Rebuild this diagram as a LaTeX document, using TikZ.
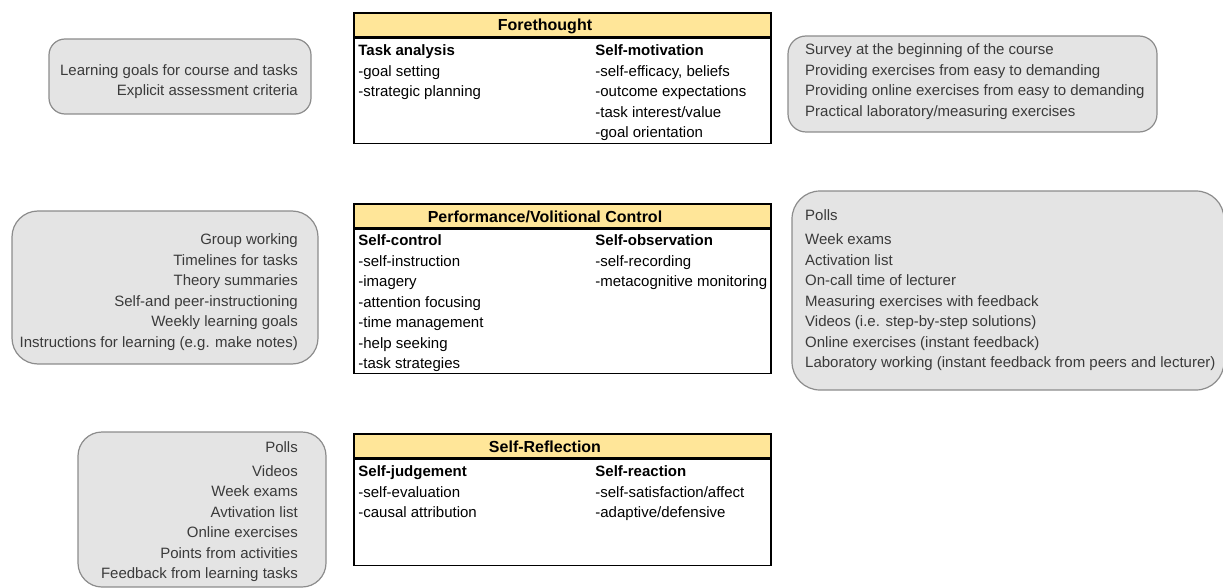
\documentclass[tikz,border=0pt]{standalone}
\usepackage{fontspec}
\setmainfont{Liberation Sans}
\usetikzlibrary{positioning}
\definecolor{headfill}{HTML}{FFE699}
\definecolor{aidfill}{HTML}{E4E4E4}
\definecolor{aidline}{HTML}{8C8C8C}
\definecolor{aidtext}{HTML}{3A3A3A}
\tikzset{
  phasehead/.style ={draw=black, line width=1.6pt, fill=headfill,
                     minimum width=417pt, minimum height=24pt, inner sep=0pt},
  phasetitle/.style={inner sep=0pt, font=\bfseries\fontsize{16}{18}\selectfont},
  phasebody/.style ={draw=black, line width=1.6pt, fill=white,
                     minimum width=417pt, inner sep=0pt},
  column/.style    ={align=left, inner sep=0pt,
                     font=\fontsize{15}{20.5}\selectfont},
  aidbox/.style    ={draw=aidline, fill=aidfill, line width=1.2pt,
                     rounded corners=16pt, inner sep=0pt},
  aidlist/.style   ={inner sep=0pt, text=aidtext,
                     font=\fontsize{15}{20.5}\selectfont},
}
\begin{document}
\begin{tikzpicture}[x=1pt, y=-1pt]
\useasboundingbox (0,0) rectangle (1223,588);
\clip (0,0) rectangle (1223,588);

% --- forethought phase ---
\node[phasehead] (fore-head) at (562.5,25) {};
\node[phasetitle] (fore-title) at (545,26) {Forethought};
\node[phasebody, minimum height=105pt, below=0pt of fore-head] (fore-body) {};
\node[column, below right=7pt and 5pt of fore-body.north west] (fore-task)
     {\textbf{Task analysis}\\-goal setting\\-strategic planning};
\node[column, below right=7pt and 242pt of fore-body.north west] (fore-motiv)
     {\textbf{Self-motivation}\\-self-efficacy, beliefs\\-outcome expectations\\
      -task interest/value\\-goal orientation};

\node[aidbox, minimum width=262pt, minimum height=75pt] (fore-left) at (180,76.5) {};
\node[aidlist, align=right, anchor=east] (fore-left-list) at (298,81.5)
     {Learning goals for course and tasks\\Explicit assessment criteria};

\node[aidbox, rounded corners=18pt, minimum width=369pt, minimum height=96pt]
     (fore-right) at (972.5,84) {};
\node[aidlist, align=left, anchor=west] (fore-right-list) at (805,81.5)
     {Survey at the beginning of the course\\
      Providing exercises from easy to demanding\\
      Providing online exercises from easy to demanding\\
      Practical laboratory/measuring exercises};

% --- performance phase ---
\node[phasehead] (perf-head) at (562.5,216) {};
\node[phasetitle] (perf-title) at (545,217) {Performance/Volitional Control};
\node[phasebody, minimum height=144pt, below=0pt of perf-head] (perf-body) {};
\node[column, below right=6pt and 5pt of perf-body.north west] (perf-control)
     {\textbf{Self-control}\\-self-instruction\\-imagery\\-attention focusing\\
      -time management\\-help seeking\\-task strategies};
\node[column, below right=6pt and 242pt of perf-body.north west] (perf-observ)
     {\textbf{Self-observation}\\-self-recording\\-metacognitive monitoring};

\node[aidbox, rounded corners=26pt, minimum width=306pt, minimum height=153pt]
     (perf-left) at (165,287.5) {};
\node[aidlist, align=right, anchor=east] (perf-left-list) at (298,292)
     {Group working\\Timelines for tasks\\Theory summaries\\
      Self-and peer-instructioning\\Weekly learning goals\\
      Instructions for learning (e.g. make notes)};

\node[aidbox, rounded corners=28pt, minimum width=432pt, minimum height=199pt]
     (perf-right) at (1008,290.5) {};
\node[aidlist, align=left, anchor=west] (perf-right-list) at (805,290.5)
     {Polls\\[3.5pt]Week exams\\Activation list\\On-call time of lecturer\\
      Measuring exercises with feedback\\Videos (i.e. step-by-step solutions)\\
      Online exercises (instant feedback)\\
      Laboratory working (instant feedback from peers and lecturer)};

% --- self-reflection phase ---
\node[phasehead] (refl-head) at (562.5,446) {};
\node[phasetitle] (refl-title) at (545,447) {Self-Reflection};
\node[phasebody, minimum height=106pt, below=0pt of refl-head] (refl-body) {};
\node[column, below right=7pt and 5pt of refl-body.north west] (refl-judge)
     {\textbf{Self-judgement}\\-self-evaluation\\-causal attribution};
\node[column, below right=7pt and 242pt of refl-body.north west] (refl-react)
     {\textbf{Self-reaction}\\-self-satisfaction/affect\\-adaptive/defensive};

\node[aidbox, rounded corners=24pt, minimum width=248pt, minimum height=155pt]
     (refl-left) at (202,509.5) {};
\node[aidlist, align=right, anchor=east] (refl-left-list) at (298,511.5)
     {Polls\\[3.5pt]Videos\\Week exams\\Avtivation list\\Online exercises\\
      Points from activities\\Feedback from learning tasks};

\end{tikzpicture}
\end{document}
